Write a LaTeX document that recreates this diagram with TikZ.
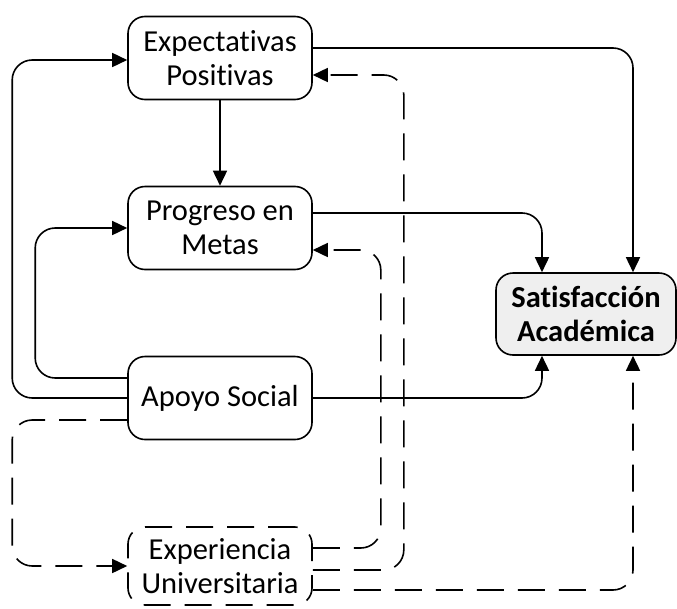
\documentclass[tikz,border=0pt]{standalone}
\usepackage{fontspec}
\setmainfont{Carlito}[Ligatures=NoCommon]
\usetikzlibrary{arrows.meta}
\definecolor{satgray}{HTML}{EFEFEF}

\begin{document}
\begin{tikzpicture}[x=1pt,y=-1pt,
    caja/.style={draw,line width=1.6pt,rounded corners=17pt,minimum width=184pt,
      minimum height=83pt,align=center,font=\fontsize{30.5}{34}\selectfont},
    flecha/.style={line width=1.6pt,rounded corners=20pt,-{Triangle[length=15pt,width=14pt]}},
    guion/.style={flecha,dash pattern=on 27pt off 14pt}]
    \useasboundingbox (0,0) rectangle (677,608);
    % cajas
    \node[caja] (exp) at (220,58) {Expectativas\\Positivas};
    \node[caja] (prog) at (220,228) {Progreso en\\Metas};
    \node[caja] (apoyo) at (220,398) {Apoyo Social};
    \node[caja,dash pattern=on 27pt off 14pt,minimum height=78pt] (expu) at (220,566) {Experiencia\\Universitaria};
    \node[caja,fill=satgray,minimum width=180pt,minimum height=82pt,font=\fontsize{30.5}{34}\selectfont\bfseries] (sat) at (586,314) {Satisfacción\\Académica};
    % flechas continuas
    \draw[flecha] ([yshift=10pt]exp.east) -| ([xshift=47pt]sat.north);
    \draw[flecha] (exp) -- (prog);
    \draw[flecha] ([yshift=15pt]prog.east) -| ([xshift=-44pt]sat.north);
    \draw[flecha] (apoyo.east) -| ([xshift=-44pt]sat.south);
    \draw[flecha] (apoyo.west) -- ++(-115,0) |- ([yshift=-2pt]exp.west);
    \draw[flecha] ([yshift=20pt]apoyo.west) -- ++(-92,0) |- (prog.west);
    % flechas discontinuas
    \draw[guion] ([yshift=-22pt]apoyo.west) -- ++(-115,0) |- (expu.west);
    \draw[guion] ([yshift=18pt]expu.east) -- ++(68,0) |- ([yshift=-22pt]prog.east);
    \draw[guion] ([yshift=-4pt]expu.east) -- ++(91,0) |- ([yshift=-17pt]exp.east);
    \draw[guion] ([yshift=-24pt]expu.east) -| ([xshift=47pt]sat.south);
\end{tikzpicture}
\end{document}
